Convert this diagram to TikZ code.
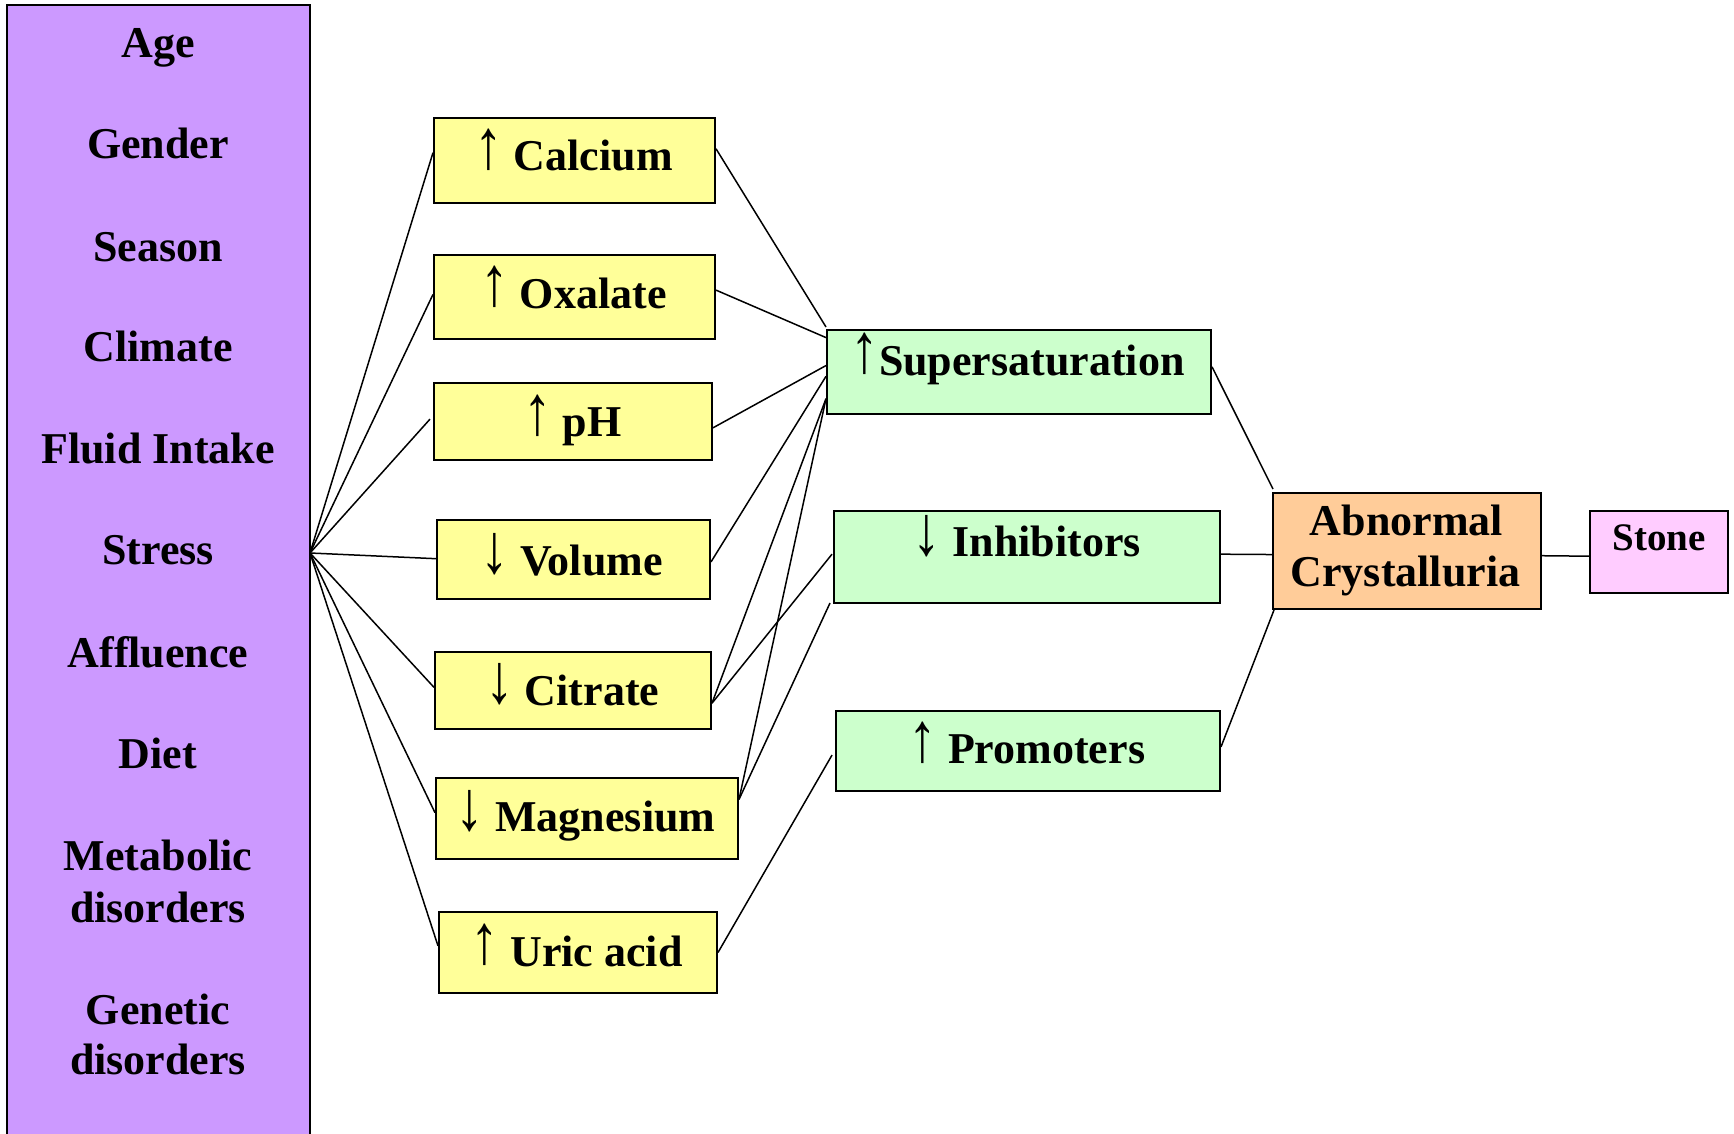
\documentclass[tikz,border=0pt]{standalone}
\usepackage{fontspec}
\usepackage{graphicx}
\setmainfont{Liberation Serif}
\usetikzlibrary{calc}
\definecolor{riskpurple}{HTML}{CC99FF}
\definecolor{urineyellow}{HTML}{FFFF99}
\definecolor{mechgreen}{HTML}{CCFFCC}
\definecolor{crystorange}{HTML}{FFCC99}
\definecolor{stonepink}{HTML}{FFCCFF}
% tall up and down arrows standing on the baseline
\newcommand\uparr{\raisebox{\depth}{\scalebox{1.3}[1.6]{↑}}}
\newcommand\dnarr{\raisebox{\depth}{\scalebox{1.3}[-1.6]{↑}}}
\begin{document}
\begin{tikzpicture}[x=0.5pt,y=-0.5pt,
  box/.style={draw=black, line width=1pt, inner sep=0pt, rectangle},
  sz/.style 2 args={minimum width=#1*0.5pt, minimum height=#2*0.5pt},
  txt/.style={anchor=base, inner sep=0pt, font=\fontsize{22}{26}\selectfont\bfseries},
  small/.style={anchor=base, inner sep=0pt, font=\fontsize{19.5}{23}\selectfont\bfseries},
  link/.style={line width=0.75pt}]
\useasboundingbox (0,0) rectangle (1734,1134);

% risk factor column
\node[box, line width=0.8pt, fill=riskpurple, sz={303}{1135}] (pu) at (158.5,572.5) {};
\node[txt] (t-age) at (158,57.4) {Age};
\node[txt] (t-gen) at (158,158.8) {Gender};
\node[txt] (t-sea) at (158,261.4) {Season};
\node[txt] (t-cli) at (158,361.7) {Climate};
\node[txt] (t-flu) at (158,463.8) {Fluid Intake};
\node[txt] (t-str) at (158,564.5) {Stress};
\node[txt] (t-aff) at (158,667) {Affluence};
\node[txt] (t-die) at (158,768.5) {Diet};
\node[txt] (t-me1) at (158,870.5) {Metabolic};
\node[txt] (t-me2) at (158,922) {disorders};
\node[txt] (t-ge1) at (158,1024) {Genetic};
\node[txt] (t-ge2) at (158,1074) {disorders};

% urinary factors
\node[box, fill=urineyellow, sz={281}{85}] (ca) at (574.5,160.5) {};
\node[box, fill=urineyellow, sz={281}{84}] (ox) at (574.5,297) {};
\node[box, fill=urineyellow, sz={278}{77}] (ph) at (573,421.5) {};
\node[box, fill=urineyellow, sz={273}{79}] (vo) at (573.5,559.5) {};
\node[box, fill=urineyellow, sz={276}{77}] (ci) at (573,690.5) {};
\node[box, fill=urineyellow, sz={302}{81}] (mg) at (587,818.5) {};
\node[box, fill=urineyellow, sz={278}{81}] (ua) at (578,952.5) {};
\node[txt] (t-ca) at (573.4,171) {\uparr\ Calcium};
\node[txt] (t-ox) at (573.4,308) {\uparr\ Oxalate};
\node[txt] (t-ph) at (572.3,436.7) {\uparr\ pH};
\node[txt] (t-vo) at (571.7,575) {\dnarr\ Volume};
\node[txt] (t-ci) at (572.3,705) {\dnarr\ Citrate};
\node[txt] (t-mg) at (585.6,831.6) {\dnarr\ Magnesium};
\node[txt] (t-ua) at (576.7,966) {\uparr\ Uric acid};

% mechanisms
\node[box, fill=mechgreen, sz={384}{84}] (ss) at (1019,372) {};
\node[box, fill=mechgreen, sz={386}{92}] (in) at (1027,557) {};
\node[box, fill=mechgreen, sz={384}{80}] (pr) at (1028,751) {};
\node[txt] (t-ss) at (1017.5,375) {\uparr Supersaturation};
\node[txt] (t-in) at (1026.8,556.7) {\dnarr\ Inhibitors};
\node[txt] (t-pr) at (1026.8,763.3) {\uparr\ Promoters};

% outcome
\node[box, fill=crystorange, sz={268}{116}] (ab) at (1407,551) {};
\node[txt] (t-ab1) at (1406.5,535) {Abnormal};
\node[txt] (t-ab2) at (1405.5,586.7) {Crystalluria};
\node[box, fill=stonepink, sz={138}{82}] (st) at (1659,552) {};
\node[small] (t-st) at (1659,550) {Stone};

% fan from the risk factors
\coordinate (fan) at (310,553);
\draw[link] (fan) -- ($(ca.north west)!0.41!(ca.south west)$);
\draw[link] (fan) -- ($(ox.north west)!0.47!(ox.south west)$);
\draw[link] (fan) -- ($(ph.north west)!0.47!(ph.south west)+(-3,0)$);
\draw[link] (fan) -- ($(vo.north west)!0.49!(vo.south west)$);
\draw[link] (fan) -- ($(ci.north west)!0.46!(ci.south west)$);
\draw[link] (fan) -- ($(mg.north west)!0.43!(mg.south west)$);
\draw[link] (fan) -- ($(ua.north west)!0.42!(ua.south west)$);

% urinary factors to mechanisms
\draw[link] ($(ca.north east)!0.365!(ca.south east)$) -- ($(ss.north west)+(0,-2)$);
\draw[link] ($(ox.north east)!0.42!(ox.south east)$) -- ($(ss.north west)!0.1!(ss.south west)$);
\draw[link] ($(ph.north east)!0.58!(ph.south east)$) -- ($(ss.north west)!0.425!(ss.south west)$);
\draw[link] ($(vo.north east)!0.53!(vo.south east)$) -- ($(ss.north west)!0.55!(ss.south west)$);
\draw[link] ($(ci.north east)!0.66!(ci.south east)$) -- ($(ss.north west)!0.81!(ss.south west)$);
\draw[link] ($(ci.north east)!0.66!(ci.south east)$) -- ($(in.north west)!0.47!(in.south west)+(-1,0)$);
\draw[link] ($(mg.north east)!0.27!(mg.south east)$) -- ($(ss.north west)!0.81!(ss.south west)$);
\draw[link] ($(mg.north east)!0.27!(mg.south east)$) -- ($(in.south west)+(-3,-1)$);
\draw[link] (ua.east) -- ($(pr.north west)!0.55!(pr.south west)+(-3,0)$);

% mechanisms to crystalluria and stone
\draw[link] ($(ss.north east)!0.44!(ss.south east)$) -- ($(ab.north west)+(1,-3)$);
\draw[link] ($(in.north east)!0.47!(in.south east)$) -- ($(ab.north west)!0.53!(ab.south west)$);
\draw[link] ($(pr.north east)!0.45!(pr.south east)$) -- ($(ab.south west)+(2,0)$);
\draw[link] ($(ab.north east)!0.54!(ab.south east)$) -- ($(st.north west)!0.55!(st.south west)$);
\end{tikzpicture}
\end{document}
